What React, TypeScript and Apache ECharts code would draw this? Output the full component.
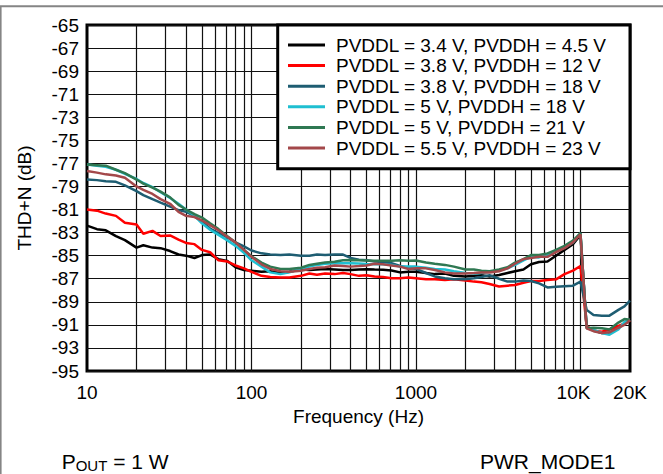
import React, { useEffect, useRef } from 'react';
import * as echarts from 'echarts';

const FONT = '"Liberation Sans", Arial, Helvetica, sans-serif';

const freqs = [
  10, 11.5, 13, 15, 17, 20, 22, 25, 28, 32, 36, 40, 45, 50, 56, 63, 71, 80, 90,
  100, 115, 130, 150, 170, 200, 225, 250, 280, 320, 360, 400, 450, 500, 560, 630, 710, 800, 900,
  1000, 1150, 1300, 1500, 1700, 2000, 2250, 2500, 2800, 3200, 3600, 4000, 4500, 5000, 5600, 6300, 7100, 8000, 9000,
  10000, 10900, 12000, 13500, 15000, 17000, 18500, 20000,
];

const seriesNames = [
  'PVDDL = 3.4 V, PVDDH = 4.5 V',
  'PVDDL = 3.8 V, PVDDH = 12 V',
  'PVDDL = 3.8 V, PVDDH = 18 V',
  'PVDDL = 5 V, PVDDH = 18 V',
  'PVDDL = 5 V, PVDDH = 21 V',
  'PVDDL = 5.5 V, PVDDH = 23 V',
];

const seriesColors = ['#000000', '#ff0000', '#1e5d72', '#1fbfd1', '#2f7852', '#a3484a'];

const thdBlack = [
  -82.4, -82.7, -82.8, -83.3, -83.65, -84.3, -84.1, -84.3, -84.35, -84.6,
  -84.9, -85.0, -85.2, -84.95, -84.9, -85.3, -85.45, -86.0, -86.25, -86.3,
  -86.4, -86.35, -86.5, -86.4, -86.2, -86.25, -86.2, -86.15, -86.2, -86.25,
  -86.25, -86.2, -86.18, -86.2, -86.22, -86.28, -86.45, -86.4, -86.4, -86.5,
  -86.6, -86.55, -86.75, -86.8, -86.75, -86.7, -86.8, -86.68, -86.5, -86.35,
  -86.2, -85.75, -85.55, -85.5, -85.0, -84.5, -84.0, -83.2,
  -91.2, -91.5, -91.7, -91.7, -91.2, -90.9, -90.6,
];

const thdRed = [
  -81.0, -81.1, -81.35, -81.55, -82.15, -82.3, -83.1, -82.85, -83.3, -83.25,
  -83.6, -83.9, -84.0, -84.5, -84.7, -85.4, -85.5, -85.85, -86.1, -86.4,
  -86.75, -86.85, -86.9, -86.9, -86.75, -86.55, -86.65, -86.55, -86.6, -86.5,
  -86.6, -86.75, -86.7, -86.8, -86.85, -86.95, -86.95, -86.9, -86.95, -87.05,
  -87.05, -87.1, -87.05, -87.15, -87.25, -87.3, -87.45, -87.68, -87.6, -87.55,
  -87.35, -87.2, -87.2, -87.1, -87.05, -86.6, -86.3, -85.9,
  -91.1, -91.5, -91.6, -91.4, -91.1, -90.9, -90.6,
];

const thdTeal = [
  -78.4, -78.45, -78.55, -78.6, -78.9, -79.4, -79.75, -80.1, -80.4, -80.75,
  -81.05, -81.2, -81.55, -82.05, -82.65, -83.05, -83.4, -83.85, -84.2, -84.55,
  -84.8, -84.9, -84.95, -84.9, -85.0, -85.0, -84.9, -84.95, -84.9, -84.9,
  -85.2, -85.35, -85.4, -85.5, -85.55, -85.65, -85.9, -86.05, -86.15, -86.5,
  -86.8, -86.95, -87.05, -87.05, -86.95, -86.85, -86.7, -87.0, -87.25, -87.25,
  -87.15, -87.2, -87.4, -87.75, -87.7, -87.65, -87.6, -87.25,
  -89.7, -90.15, -90.2, -90.2, -89.7, -89.4, -88.9,
];

const thdCyan = [
  -77.1, -77.2, -77.3, -77.55, -77.9, -78.35, -78.7, -79.05, -79.5, -80.0,
  -80.5, -81.0, -81.55, -82.2, -82.75, -83.2, -83.65, -84.15, -84.75, -85.4,
  -85.95, -86.45, -86.6, -86.45, -86.1, -85.95, -85.8, -85.7, -85.66, -85.65,
  -85.66, -85.68, -85.72, -85.75, -85.75, -85.8, -85.95, -85.95, -85.95, -86.05,
  -86.15, -86.2, -86.35, -86.5, -86.55, -86.5, -86.4, -86.3, -86.1, -85.8,
  -85.4, -85.1, -85.15, -84.9, -84.6, -84.3, -83.85, -83.05,
  -91.2, -91.45, -91.7, -91.85, -91.4, -90.75, -90.55,
];

const thdGreen = [
  -77.1, -77.15, -77.2, -77.55, -77.85, -78.4, -78.75, -79.1, -79.45, -79.95,
  -80.6, -81.0, -81.4, -81.7, -82.2, -82.7, -83.3, -83.85, -84.5, -85.05,
  -85.6, -85.95, -86.15, -86.15, -86.05, -85.8, -85.7, -85.6, -85.52, -85.4,
  -85.38, -85.4, -85.42, -85.45, -85.45, -85.45, -85.4, -85.45, -85.42, -85.6,
  -85.7, -85.8, -85.95, -86.2, -86.2, -86.3, -86.35, -86.2, -86.0, -85.6,
  -85.3, -84.95, -84.95, -84.8, -84.5, -84.15, -83.7, -83.05,
  -91.3, -91.25, -91.3, -91.4, -90.8, -90.5, -90.55,
];

const thdBrown = [
  -77.65, -77.8, -77.95, -78.05, -78.25, -79.0, -79.3, -79.65, -80.1, -80.5,
  -81.2, -81.55, -81.65, -81.95, -82.35, -82.8, -83.35, -83.85, -84.5, -85.1,
  -85.75, -86.15, -86.35, -86.4, -86.3, -86.15, -86.05, -86.0, -85.85, -85.9,
  -85.95, -85.9, -85.85, -85.7, -85.75, -85.85, -85.95, -86.15, -86.1, -86.1,
  -86.25, -86.45, -86.55, -86.55, -86.5, -86.45, -86.45, -86.35, -86.1, -85.7,
  -85.3, -85.2, -85.1, -85.1, -84.7, -84.35, -83.85, -83.15,
  -91.3, -91.55, -91.7, -91.65, -91.25, -91.0, -90.6,
];

const xTickValues = [10, 100, 1000, 10000, 20000];
const xTickLabels = ['10', '100', '1000', '10K', '20K'];

const verticalGridFreqs = [
  20, 30, 40, 50, 60, 70, 80, 90, 100,
  200, 300, 400, 500, 600, 700, 800, 900, 1000,
  2000, 3000, 4000, 5000, 6000, 7000, 8000, 9000, 10000,
];

const yMin = -95;
const yMax = -65;
const yStep = 2;

export default function App() {
  const ref = useRef<HTMLDivElement>(null);

  useEffect(() => {
    if (!ref.current) return;
    const chart = echarts.init(ref.current, null, { renderer: 'svg' });
    const values = [thdBlack, thdRed, thdTeal, thdCyan, thdGreen, thdBrown];

    const curveSeries = values.map((arr, si) => ({
      type: 'line',
      name: seriesNames[si],
      data: freqs.map((f, i) => [f, arr[i]]),
      showSymbol: false,
      symbol: 'none',
      silent: true,
      z: 3,
      lineStyle: { color: seriesColors[si], width: 2.5 },
      itemStyle: { color: seriesColors[si] },
      emphasis: { disabled: true },
    }));

    const labelStyle = { fontSize: 19, fontFamily: FONT, color: '#000' };

    const option: any = {
      animation: false,
      backgroundColor: '#ffffff',
      grid: {
        left: 87,
        top: 25,
        right: 33,
        bottom: 103,
        show: true,
        borderColor: '#000',
        borderWidth: 3,
        backgroundColor: 'transparent',
        containLabel: false,
        outerBoundsMode: 'none',
      },
      xAxis: {
        type: 'log',
        logBase: 10,
        min: 10,
        max: 20000,
        name: 'Frequency (Hz)',
        nameLocation: 'middle',
        nameGap: 31,
        nameTextStyle: { ...labelStyle, lineHeight: 19 },
        axisLine: { show: false },
        axisTick: { show: false },
        minorTick: { show: false },
        splitLine: { show: false },
        axisLabel: {
          ...labelStyle,
          lineHeight: 19,
          margin: 12,
          formatter: (v: number) => {
            const idx = xTickValues.indexOf(Math.round(v));
            if (idx < 0) return '';
            const t = xTickLabels[idx];
            return Math.round(v) === 10000 ? '{k|' + t + '}' : t;
          },
          rich: {
            k: { ...labelStyle, lineHeight: 19, padding: [0, 14, 0, 0] },
          },
        },
      },
      yAxis: {
        type: 'value',
        min: yMin,
        max: yMax,
        interval: yStep,
        name: 'THD+N (dB)',
        nameLocation: 'middle',
        nameRotate: 90,
        nameGap: 53,
        nameTextStyle: { ...labelStyle, lineHeight: 19 },
        axisLine: { show: false },
        axisTick: { show: false },
        axisLabel: { ...labelStyle, margin: 8 },
        splitLine: { show: true, lineStyle: { color: '#111', width: 1.2 } },
      },
      legend: {
        data: seriesNames,
        orient: 'vertical',
        left: 288,
        top: 35,
        padding: 0,
        itemGap: 0.6,
        itemWidth: 37,
        itemHeight: 3,
        icon: 'rect',
        selectedMode: false,
        z: 20,
        textStyle: { ...labelStyle, lineHeight: 20, padding: [0, 0, 0, 6] },
      },
      graphic: [
        {
          type: 'line',
          shape: { x1: 0, y1: 6.3, x2: 663, y2: 6.3 },
          style: { stroke: '#858585', lineWidth: 2 },
          z: 1,
        },
        {
          type: 'line',
          shape: { x1: 0.8, y1: 6.3, x2: 0.8, y2: 474 },
          style: { stroke: '#858585', lineWidth: 1.6 },
          z: 1,
        },
        {
          type: 'rect',
          shape: { x: 277.7, y: 25, width: 352.3, height: 143.8 },
          style: { fill: '#ffffff', stroke: '#000000', lineWidth: 3 },
          z: 10,
        },
        {
          type: 'text',
          x: 61.7,
          y: 461,
          z: 10,
          style: {
            text: '{m|P}{s|OUT}{m| = 1 W}',
            align: 'left',
            verticalAlign: 'middle',
            rich: {
              m: { fontSize: 21, fontFamily: FONT, fill: '#000', lineHeight: 24 },
              s: { fontSize: 15, fontFamily: FONT, fill: '#000', lineHeight: 18, verticalAlign: 'bottom' },
            },
          },
        },
        {
          type: 'text',
          x: 480,
          y: 461,
          z: 10,
          style: {
            text: 'PWR_MODE1',
            fontSize: 21,
            fontFamily: FONT,
            fill: '#000',
            align: 'left',
            verticalAlign: 'middle',
          },
        },
      ],
      series: [
        {
          type: 'line',
          name: 'vertical-grid',
          data: [],
          silent: true,
          z: 1,
          markLine: {
            silent: true,
            z: 1,
            symbol: ['none', 'none'],
            label: { show: false },
            lineStyle: { color: '#111', width: 1.2, type: 'solid' },
            emphasis: { disabled: true },
            animation: false,
            data: verticalGridFreqs.map((f) => ({ xAxis: f })),
          },
        },
        ...curveSeries,
      ],
    };

    chart.setOption(option);
    return () => {
      chart.dispose();
    };
  }, []);

  return (
    <div
      ref={ref}
      style={{ position: 'fixed', left: 0, top: 0, width: 663, height: 474, background: '#fff' }}
    />
  );
}
